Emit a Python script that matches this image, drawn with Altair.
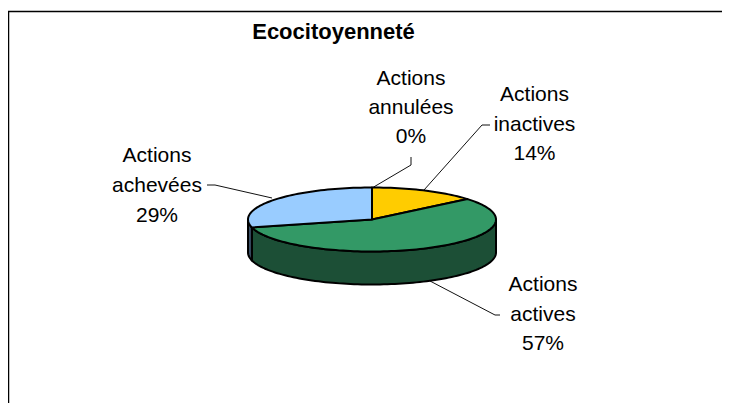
import math
import altair as alt
import pandas as pd

# Data
categories = ["Actions inactives", "Actions actives", "Actions achevées", "Actions annulées"]
label_lines = [["Actions", "inactives", "14%"], ["Actions", "actives", "57%"],
               ["Actions", "achevées", "29%"], ["Actions", "annulées", "0%"]]
shares = [14, 57, 29, 0]
colors = ["#FFCC00", "#339966", "#99CCFF", "#FFFFFF"]
wall_colors = ["#7F6600", "#1C4F36", "#3A4F66", "#FFFFFF"]
title_text = "Ecocitoyenneté"

# Layout (page pixels, minus the 8px page margin)
M = 8
CX, CY, RX, RY, DEPTH = 372 - M, 219.5 - M, 124, 32, 33
label_centres = [534.5, 543, 157, 411]
label_baselines = [[101, 131, 160], [291, 321, 350], [162, 192, 222], [85, 114, 143]]
leaders = [
    [(424, 190), (482, 125), (490, 125)],
    [(430, 281), (495, 315), (500, 315)],
    [(272, 198), (215, 185), (207, 185)],
    [(372, 188), (411, 165), (411, 157)],
]


def top_pt(t):
    return [math.sin(t), math.cos(t) * RY / RX]


def wedge(a0, a1):
    n = max(2, int((a1 - a0) / 0.03))
    pts = [[0, 0]] + [top_pt(a0 + (a1 - a0) * i / n) for i in range(n + 1)] + [[0, 0]]
    return pts


def wall(a0, a1):
    n = max(2, int((a1 - a0) / 0.03))
    top = [top_pt(a0 + (a1 - a0) * i / n) for i in range(n + 1)]
    bot = [[x, y - DEPTH / RX] for x, y in reversed(top)]
    return top + bot + [top[0]]


def feature(ring, fill):
    return {"type": "Feature", "properties": {"fill": fill},
            "geometry": {"type": "Polygon", "coordinates": [ring]}}


tops, walls = [], []
angle = 0.0
for share, col, wcol in zip(shares, colors, wall_colors):
    a0 = angle
    a1 = angle + share / 100 * 2 * math.pi
    angle = a1
    if share == 0:
        continue
    tops.append(feature(wedge(a0, a1), col))
    lo, hi = max(a0, math.pi / 2), min(a1, 3 * math.pi / 2)
    if hi > lo:
        walls.append(feature(wall(lo, hi), wcol))


def pie_layer(features):
    return (
        alt.Chart(alt.Data(values=features))
        .mark_geoshape(stroke="black", strokeWidth=2, strokeJoin="round")
        .encode(fill=alt.Fill("properties.fill:N", scale=None))
        .project(type="identity", reflectY=True, scale=RX, translate=[CX, CY])
    )


text_rows = []
for lines, cx, bases in zip(label_lines, label_centres, label_baselines):
    for line, b in zip(lines, bases):
        text_rows.append({"t": line, "x": cx - M, "y": b - M})

leader_rows = []
for i, pts in enumerate(leaders):
    for j, (x, y) in enumerate(pts):
        leader_rows.append({"g": i, "o": j, "x": x - M, "y": y - M})

X = alt.X("x:Q", scale=None, axis=None)
Y = alt.Y("y:Q", scale=None, axis=None)

leader_layer = (
    alt.Chart(pd.DataFrame(leader_rows))
    .mark_line(color="#111111", strokeWidth=1)
    .encode(x=X, y=Y, detail="g:N", order="o:Q")
)

text_layer = (
    alt.Chart(pd.DataFrame(text_rows))
    .mark_text(font="Liberation Sans", fontSize=21, align="center", baseline="alphabetic", color="black")
    .encode(x=X, y=Y, text="t:N")
)

title_layer = (
    alt.Chart(pd.DataFrame({"t": [title_text], "x": [333.5 - M], "y": [39 - M]}))
    .mark_text(font="Liberation Sans", fontSize=22, fontWeight="bold", align="center",
               baseline="alphabetic", color="black")
    .encode(x=X, y=Y, text="t:N")
)

border_layer = (
    alt.Chart(pd.DataFrame({"x": [0.5, 0.5, 714], "y": [395, 3.5, 3.5], "o": [0, 1, 2]}))
    .mark_line(color="black", strokeWidth=1.5)
    .encode(x=X, y=Y, order="o:Q")
)

chart = (
    alt.layer(border_layer, leader_layer, pie_layer(walls), pie_layer(tops), text_layer, title_layer)
    .properties(width=714, height=395, padding=0, background="white",
                autosize=alt.AutoSizeParams(type="none"))
    .configure_view(stroke=None)
)

chart.save("out.html", embed_options={"renderer": "svg", "actions": False})
